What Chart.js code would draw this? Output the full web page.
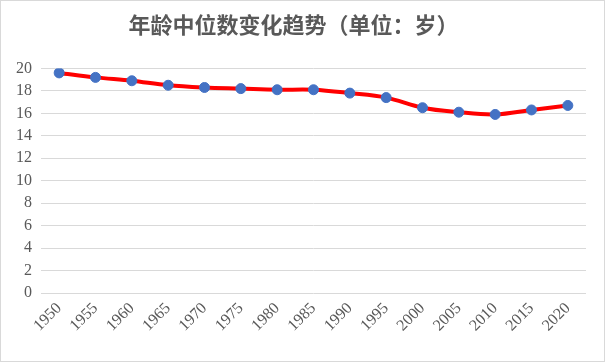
<!DOCTYPE html>
<html>
<head>
<meta charset="utf-8">
<script src="https://cdn.jsdelivr.net/npm/chart.js@4"></script>
<style>
  html, body { margin: 0; padding: 0; background: #fff; }
  #wrap {
    position: absolute; left: 0; top: 0;
    width: 605px; height: 362px;
    box-sizing: border-box;
    border: 1px solid #d9d9d9;
    background: #fff;
  }
  canvas { display: block; }
</style>
</head>
<body>
<div id="wrap"><canvas id="age-chart" width="603" height="360"></canvas></div>
<script>
// Chart data
const years = ['1950', '1955', '1960', '1965', '1970', '1975', '1980', '1985',
               '1990', '1995', '2000', '2005', '2010', '2015', '2020'];
const medianAge = [19.6, 19.2, 18.9, 18.5, 18.3, 18.2, 18.1, 18.1,
                   17.8, 17.4, 16.5, 16.1, 15.9, 16.3, 16.7];
const yMin = 0;
const yMax = 20;
const yStep = 2;

const textGray = '#595959';
const serif = '"Liberation Serif", "Times New Roman", serif';

const ctx = document.getElementById('age-chart').getContext('2d');

new Chart(ctx, {
  type: 'line',
  data: {
    labels: years,
    datasets: [{
      label: '年龄中位数',
      data: medianAge,
      borderColor: '#ff0000',
      borderWidth: 4,
      tension: 0.35,
      fill: false,
      pointRadius: 5,
      pointHoverRadius: 5,
      pointBackgroundColor: '#4472c4',
      pointBorderColor: '#4472c4',
      pointBorderWidth: 1
    }]
  },
  options: {
    responsive: false,
    animation: false,
    layout: {
      padding: { top: 0, right: 18, bottom: 0, left: 0 }
    },
    plugins: {
      legend: { display: false },
      tooltip: { enabled: false },
      title: {
        display: true,
        text: '年龄中位数变化趋势（单位：岁）',
        color: textGray,
        font: { family: '"Noto Sans CJK SC", sans-serif', size: 22, weight: 'bold' },
        padding: { top: 10, bottom: 31 }
      }
    },
    scales: {
      x: {
        offset: true,
        grid: { display: false, drawTicks: false },
        border: { display: false },
        ticks: {
          color: textGray,
          font: { family: serif, size: 16 },
          minRotation: 45,
          maxRotation: 45,
          padding: 6,
          autoSkip: false
        },
        afterFit: (scale) => { scale.height = 68; }
      },
      y: {
        min: yMin,
        max: yMax,
        grid: { color: '#d9d9d9', drawTicks: false },
        border: { display: false },
        ticks: {
          stepSize: yStep,
          color: textGray,
          font: { family: serif, size: 16 },
          padding: 9
        },
        afterFit: (scale) => { scale.width = 40; }
      }
    }
  }
});
</script>
</body>
</html>
